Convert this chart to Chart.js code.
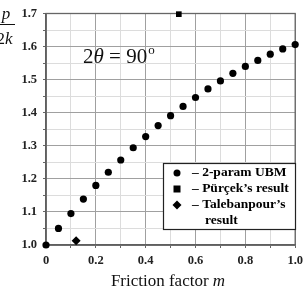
<!DOCTYPE html>
<html><head><meta charset="utf-8">
<script src="https://cdn.jsdelivr.net/npm/chart.js@4"></script>
<style>html,body{margin:0;padding:0;background:#fff}#w{width:308px;height:289px;position:relative}</style>
</head><body><div id="w"><canvas id="c" width="308" height="289"></canvas></div>
<script>
const ubmM = [0,0.05,0.1,0.15,0.2,0.25,0.3,0.35,0.4,0.45,0.5,0.55,0.6,0.65,0.7,0.75,0.8,0.85,0.9,0.95,1.0];
const ubmP = [1.0,1.05,1.095,1.139,1.180,1.220,1.257,1.294,1.328,1.361,1.391,1.419,1.446,1.472,1.496,1.519,1.540,1.558,1.577,1.593,1.606];
const purcekM = [0.533];
const purcekP = [1.698];
const talebM = [0.121];
const talebP = [1.013];
const xTickLabels = ['0','0.2','0.4','0.6','0.8','1.0'];
const yTickLabels = ['1.0','1.1','1.2','1.3','1.4','1.5','1.6','1.7'];
const legendLabels = ['– 2-param UBM','– Pürçek’s result','– Talebanpour’s','result'];

const SERIF = '"Liberation Serif","DejaVu Serif",serif';
const toPts = (xs, ys) => xs.map((x, i) => ({x, y: ys[i]}));
const isMajor = (v, step) => Math.abs(v / step - Math.round(v / step)) < 1e-6;

const frame = {
  id: 'frame',
  beforeDatasetsDraw(chart) {
    const {ctx, chartArea: a} = chart;
    ctx.save();
    ctx.strokeStyle = '#666';
    ctx.lineWidth = 1.3;
    ctx.strokeRect(a.left, a.top, a.right - a.left, a.bottom - a.top);
    ctx.restore();
  }
};

const overlay = {
  id: 'overlay',
  afterDraw(chart) {
    const ctx = chart.ctx;
    ctx.save();
    ctx.fillStyle = '#111';
    ctx.strokeStyle = '#111';
    // y title fraction
    ctx.textAlign = 'center';
    ctx.textBaseline = 'middle';
    ctx.font = 'italic 17px ' + SERIF;
    ctx.fillText('p', 6, 15);
    ctx.lineWidth = 1;
    ctx.beginPath(); ctx.moveTo(-4, 24.5); ctx.lineTo(15, 24.5); ctx.stroke();
    ctx.font = '17px ' + SERIF;
    ctx.textAlign = 'right';
    ctx.fillText('2', 5, 40);
    ctx.textAlign = 'left';
    ctx.font = 'italic 17px ' + SERIF;
    ctx.fillText('k', 5, 40);
    // annotation 2θ = 90°
    ctx.textAlign = 'left';
    ctx.textBaseline = 'alphabetic';
    let x = 83;
    const by = 63;
    ctx.font = '21px ' + SERIF; ctx.fillText('2', x, by); x += ctx.measureText('2').width;
    ctx.font = 'italic 21px ' + SERIF; ctx.fillText('θ', x, by); x += ctx.measureText('θ').width;
    ctx.font = '21px ' + SERIF; ctx.fillText(' = 90', x, by); x += ctx.measureText(' = 90').width;
    ctx.font = '13px ' + SERIF; ctx.fillText('o', x + 1, by - 9);
    // x title
    const t1 = 'Friction factor ';
    ctx.font = '17px ' + SERIF; const w1 = ctx.measureText(t1).width;
    ctx.font = 'italic 17px ' + SERIF; const w2 = ctx.measureText('m').width;
    let sx = 168 - (w1 + w2) / 2;
    ctx.textBaseline = 'middle';
    ctx.font = '17px ' + SERIF; ctx.fillText(t1, sx, 282);
    ctx.font = 'italic 17px ' + SERIF; ctx.fillText('m', sx + w1, 282);
    // legend box
    ctx.fillStyle = '#fff';
    ctx.fillRect(163, 163, 132, 66);
    ctx.strokeStyle = '#222';
    ctx.lineWidth = 1.2;
    ctx.strokeRect(163.5, 163.5, 132, 66);
    ctx.fillStyle = '#000';
    const mx = 177;
    const rows = [173, 189, 205];
    ctx.beginPath(); ctx.arc(mx, rows[0], 3.5, 0, Math.PI * 2); ctx.fill();
    ctx.fillRect(mx - 3.5, rows[1] - 3.5, 7, 7);
    ctx.beginPath(); ctx.moveTo(mx, rows[2] - 4.5); ctx.lineTo(mx + 4.5, rows[2]); ctx.lineTo(mx, rows[2] + 4.5); ctx.lineTo(mx - 4.5, rows[2]); ctx.closePath(); ctx.fill();
    ctx.font = 'bold 13.5px ' + SERIF;
    ctx.textAlign = 'left';
    ctx.textBaseline = 'middle';
    ctx.fillText(legendLabels[0], 192, rows[0]);
    ctx.fillText(legendLabels[1], 192, rows[1]);
    ctx.fillText(legendLabels[2], 192, rows[2]);
    ctx.fillText(legendLabels[3], 205, 221);
    ctx.restore();
  }
};

new Chart(document.getElementById('c'), {
  type: 'scatter',
  data: {
    datasets: [
      {label: '2-param UBM', data: toPts(ubmM, ubmP), pointStyle: 'circle', pointRadius: 3.6, backgroundColor: '#000', borderColor: '#000', borderWidth: 0, clip: false},
      {label: 'Pürçek’s result', data: toPts(purcekM, purcekP), pointStyle: 'rect', pointRadius: 4, backgroundColor: '#000', borderColor: '#000', borderWidth: 0, clip: false},
      {label: 'Talebanpour’s result', data: toPts(talebM, talebP), pointStyle: 'rectRot', pointRadius: 4.5, backgroundColor: '#000', borderColor: '#000', borderWidth: 0, clip: false}
    ]
  },
  options: {
    responsive: false,
    animation: false,
    events: [],
    layout: {padding: {left: 0, right: 8, top: 9, bottom: 0}},
    plugins: {legend: {display: false}, tooltip: {enabled: false}},
    scales: {
      x: {
        type: 'linear', min: 0, max: 1.0,
        afterFit: s => { s.height = 44; },
        afterBuildTicks: s => { s.ticks = []; for (let i = 0; i <= 10; i++) s.ticks.push({value: i / 10}); },
        ticks: {
          autoSkip: false, maxRotation: 0, padding: 5, color: '#222',
          font: {family: SERIF, size: 12.5, weight: 'bold'},
          callback: v => isMajor(v, 0.2) ? xTickLabels[Math.round(v / 0.2)] : ''
        },
        grid: {
          color: c => isMajor(c.tick.value, 0.2) ? '#a0a0a0' : '#dcdcdc',
          lineWidth: 1, drawTicks: true, tickLength: 3,
          tickColor: '#666'
        },
        border: {color: '#555', width: 1.5}
      },
      y: {
        type: 'linear', min: 1.0, max: 1.7,
        afterFit: s => { s.width = 46; },
        afterBuildTicks: s => { s.ticks = []; for (let i = 0; i <= 14; i++) s.ticks.push({value: 1 + i * 0.05}); },
        ticks: {
          autoSkip: false, padding: 6, color: '#222',
          font: {family: SERIF, size: 12.5, weight: 'bold'},
          callback: v => isMajor(v - 1, 0.1) ? yTickLabels[Math.round((v - 1) / 0.1)] : ''
        },
        grid: {
          color: c => isMajor(c.tick.value - 1, 0.1) ? '#a0a0a0' : '#dcdcdc',
          lineWidth: 1, drawTicks: true, tickLength: 3,
          tickColor: '#666'
        },
        border: {color: '#555', width: 1.5}
      }
    }
  },
  plugins: [frame, overlay]
});
</script></body></html>
